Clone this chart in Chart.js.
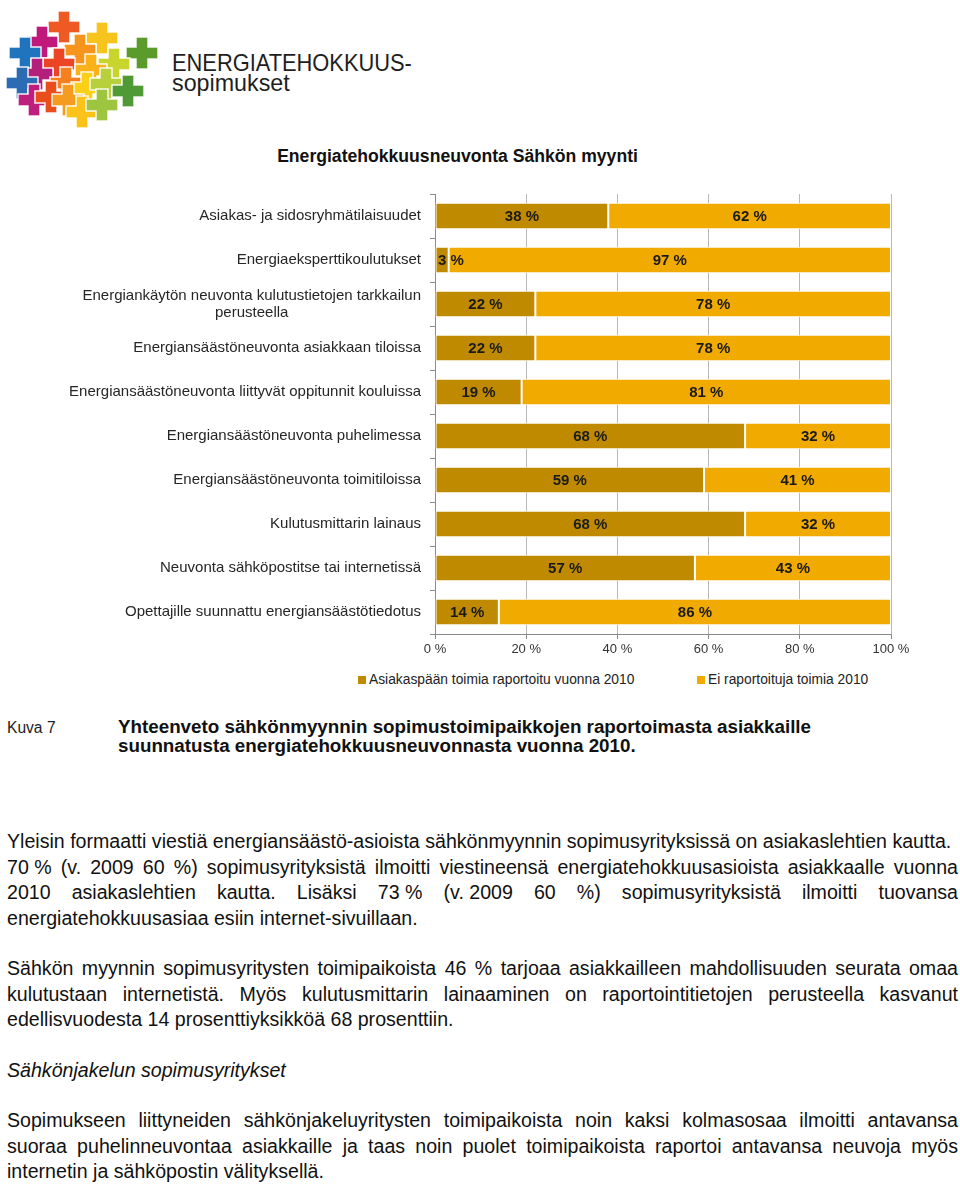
<!DOCTYPE html>
<html><head><meta charset="utf-8">
<script src="https://cdn.jsdelivr.net/npm/chart.js@4"></script>
<style>
body{margin:0;width:960px;height:1188px;position:relative;background:#fff;font-family:"Liberation Sans",Arial,Helvetica,sans-serif;color:#111;overflow:hidden}
.abs{position:absolute}
.logotxt{left:172px;top:53px;font-size:24px;line-height:20px;color:#1e1e1e;white-space:nowrap}
.logotxt span{display:inline-block;transform-origin:0 0}
#title{left:0;width:915px;top:146px;text-align:center;font-weight:bold;font-size:17.6px;line-height:20px;color:#111}
#chartWrap{left:0;top:180px;width:960px;height:480px}
#legend{top:671px;left:0;width:960px;height:18px;font-size:13.8px;color:#222}
.lg{position:absolute;top:0;white-space:nowrap;line-height:18px}
.lg i{display:inline-block;width:8px;height:8px;margin-right:3px;vertical-align:0px}
#kuva{left:7px;top:719px;font-size:15.6px;line-height:18px;color:#222}
#cap{left:118px;top:717px;font-size:18.8px;line-height:19px;font-weight:bold;color:#111}
.txt{position:absolute;left:7px;width:951px;font-size:19.6px;line-height:25.7px;color:#111}
.j{text-align:justify;text-align-last:justify}
.nb{display:inline-block;white-space:nowrap}
</style></head><body>

<canvas id="logo" class="abs" width="170" height="130" style="left:0;top:0"></canvas>
<div class="abs logotxt"><span style="transform:scaleX(0.91)">ENERGIATEHOKKUUS-</span><br><span style="transform:scaleX(0.97)">sopimukset</span></div>

<div id="title" class="abs">Energiatehokkuusneuvonta Sähkön myynti</div>
<div id="chartWrap" class="abs"><canvas id="c" width="960" height="480"></canvas></div>
<div id="legend" class="abs"></div>

<div id="kuva" class="abs">Kuva 7</div>
<div id="cap" class="abs">Yhteenveto sähkönmyynnin sopimustoimipaikkojen raportoimasta asiakkaille<br>suunnatusta energiatehokkuusneuvonnasta vuonna 2010.</div>

<div class="txt" style="top:829px">
<div>Yleisin formaatti viestiä energiansäästö-asioista sähkönmyynnin sopimusyrityksissä on asiakaslehtien kautta.</div>
<div class="j"><span class="nb">70&nbsp;%</span> (v. 2009 60 %) sopimusyrityksistä ilmoitti viestineensä energiatehokkuusasioista asiakkaalle vuonna</div>
<div class="j">2010 asiakaslehtien kautta. Lisäksi <span class="nb">73&nbsp;%</span> <span class="nb">(v.&nbsp;2009</span> 60 %) sopimusyrityksistä ilmoitti tuovansa</div>
<div>energiatehokkuusasiaa esiin internet-sivuillaan.</div>
</div>

<div class="txt" style="top:956px">
<div class="j">Sähkön myynnin sopimusyritysten toimipaikoista 46 % tarjoaa asiakkailleen mahdollisuuden seurata omaa</div>
<div class="j">kulutustaan internetistä. Myös kulutusmittarin lainaaminen on raportointitietojen perusteella kasvanut</div>
<div>edellisvuodesta 14 prosenttiyksikköä 68 prosenttiin.</div>
</div>

<div class="txt" style="top:1058px;font-style:italic">Sähkönjakelun sopimusyritykset</div>

<div class="txt" style="top:1108px">
<div class="j">Sopimukseen liittyneiden sähkönjakeluyritysten toimipaikoista noin kaksi kolmasosaa ilmoitti antavansa</div>
<div class="j">suoraa puhelinneuvontaa asiakkaille ja taas noin puolet toimipaikoista raportoi antavansa neuvoja myös</div>
<div>internetin ja sähköpostin välityksellä.</div>
</div>

<script>
// ---- data ----
const categories = [
  ["Asiakas- ja sidosryhmätilaisuudet"],
  ["Energiaeksperttikoulutukset"],
  ["Energiankäytön neuvonta kulutustietojen tarkkailun", "perusteella"],
  ["Energiansäästöneuvonta asiakkaan tiloissa"],
  ["Energiansäästöneuvonta liittyvät oppitunnit kouluissa"],
  ["Energiansäästöneuvonta puhelimessa"],
  ["Energiansäästöneuvonta toimitiloissa"],
  ["Kulutusmittarin lainaus"],
  ["Neuvonta sähköpostitse tai internetissä"],
  ["Opettajille suunnattu energiansäästötiedotus"]
];
const reported = [38, 3, 22, 22, 19, 68, 59, 68, 57, 14];
const notReported = [62, 97, 78, 78, 81, 32, 41, 32, 43, 86];
const seriesNames = ["Asiakaspään toimia raportoitu vuonna 2010", "Ei raportoituja toimia 2010"];
const seriesColors = ["#BF8A00", "#F0AA00"];
const xTicks = [0, 20, 40, 60, 80, 100];

// ---- logo (decoration) ----
(function(){
  const g = document.getElementById('logo').getContext('2d');
  const crosses = [
    [64,27,'#ef5a24'],[42,42,'#c0197b'],[102,38,'#f7c41d'],[25,53,'#1f74bd'],
    [80,50,'#f7941d'],[142,53,'#5b9b2b'],[59,64,'#ec4526'],[114,64,'#c9d52c'],
    [91,70,'#fbb11a'],[37,74,'#b31f7b'],[22,83,'#2c6cb4'],[66,83,'#f5801f'],
    [87,88,'#fcd016'],[106,84,'#b7d03b'],[128,91,'#4f9a35'],[34,100,'#bf1f7c'],
    [51,97,'#e84d1c'],[68,100,'#f59b20'],[82,112,'#fbc31a'],[102,105,'#9dc53f']
  ];
  const L = 16, T = 6;
  crosses.forEach(([x,y,c])=>{
    g.beginPath();
    g.moveTo(x-T,y-L);g.lineTo(x+T,y-L);g.lineTo(x+T,y-T);g.lineTo(x+L,y-T);g.lineTo(x+L,y+T);
    g.lineTo(x+T,y+T);g.lineTo(x+T,y+L);g.lineTo(x-T,y+L);g.lineTo(x-T,y+T);g.lineTo(x-L,y+T);
    g.lineTo(x-L,y-T);g.lineTo(x-T,y-T);g.closePath();
    g.fillStyle=c;g.fill();g.lineWidth=1.5;g.strokeStyle='rgba(255,255,255,0.9)';g.stroke();
  });
})();

// ---- legend ----
(function(){
  const lg = document.getElementById('legend');
  const lefts = [358, 697];
  seriesNames.forEach((n,i)=>{
    const d = document.createElement('div');
    d.className='lg'; d.style.left = lefts[i]+'px';
    d.innerHTML = '<i style="background:'+seriesColors[i]+'"></i>'+n;
    lg.appendChild(d);
  });
})();

// ---- chart ----
Chart.defaults.font.family = '"Liberation Sans", Arial, sans-serif';

const yLabelPlugin = {
  id: 'yLabels',
  afterDraw(chart){
    const ys = chart.scales.y, ctx = chart.ctx;
    ctx.save();
    ctx.font = '15px "Liberation Sans", Arial, sans-serif';
    ctx.fillStyle = '#262626';
    ctx.textAlign = 'center';
    ctx.textBaseline = 'middle';
    const rightEdge = ys.right - 14;
    const lh = 17;
    categories.forEach((lines,i)=>{
      const y = ys.getPixelForTick(i);
      const w = Math.max(...lines.map(s=>ctx.measureText(s).width));
      const cx = rightEdge - w/2;
      lines.forEach((s,k)=>{
        ctx.fillText(s, cx, y + (k - (lines.length-1)/2)*lh);
      });
    });
    ctx.restore();
  }
};

const valueLabelPlugin = {
  id: 'valueLabels',
  afterDatasetsDraw(chart){
    const ctx = chart.ctx;
    ctx.save();
    ctx.font = 'bold 15px "Liberation Sans", Arial, sans-serif';
    ctx.fillStyle = '#1a1a1a';
    ctx.textAlign = 'center';
    ctx.textBaseline = 'middle';
    chart.data.datasets.forEach((ds,i)=>{
      const meta = chart.getDatasetMeta(i);
      meta.data.forEach((bar,j)=>{
        const p = bar.getProps(['x','y','base'], true);
        const txt = ds.data[j] + ' %';
        const w = ctx.measureText(txt).width;
        let cx = (p.x + p.base)/2;
        cx = Math.max(cx, chart.chartArea.left + 3 + w/2);
        ctx.fillText(txt, cx, p.y + 1);
      });
    });
    ctx.restore();
  }
};

new Chart(document.getElementById('c'), {
  type: 'bar',
  data: {
    labels: categories.map(l=>l.join(' ')),
    datasets: [
      {label: seriesNames[0], data: reported, backgroundColor: seriesColors[0], borderColor: '#ffffff', borderWidth: 1, borderSkipped: false, categoryPercentage: 1, barPercentage: 0.6},
      {label: seriesNames[1], data: notReported, backgroundColor: seriesColors[1], borderColor: '#ffffff', borderWidth: 1, borderSkipped: false, categoryPercentage: 1, barPercentage: 0.6}
    ]
  },
  options: {
    indexAxis: 'y',
    responsive: false,
    animation: false,
    devicePixelRatio: 1,
    layout: {padding: {left: 0, right: 69, top: 14, bottom: 0}},
    plugins: {legend: {display: false}, tooltip: {enabled: false}, title: {display: false}},
    scales: {
      x: {
        stacked: true, min: 0, max: 100,
        afterBuildTicks: s => { s.ticks = xTicks.map(v=>({value:v})); },
        afterFit: s => { s.height = 26; },
        ticks: {callback: v => v + ' %', font: {size: 13}, color: '#333', padding: 3, maxRotation: 0},
        grid: {color: '#b8b8b8', tickColor: '#8a8a8a', tickLength: 5, lineWidth: 1},
        border: {color: '#8a8a8a', width: 1}
      },
      y: {
        stacked: true,
        afterFit: s => { s.width = 435; },
        ticks: {display: false},
        grid: {drawOnChartArea: false, drawTicks: true, tickLength: 5, color: '#8a8a8a', offset: true},
        border: {color: '#8a8a8a', width: 1}
      }
    }
  },
  plugins: [yLabelPlugin, valueLabelPlugin]
});
</script>
</body></html>
